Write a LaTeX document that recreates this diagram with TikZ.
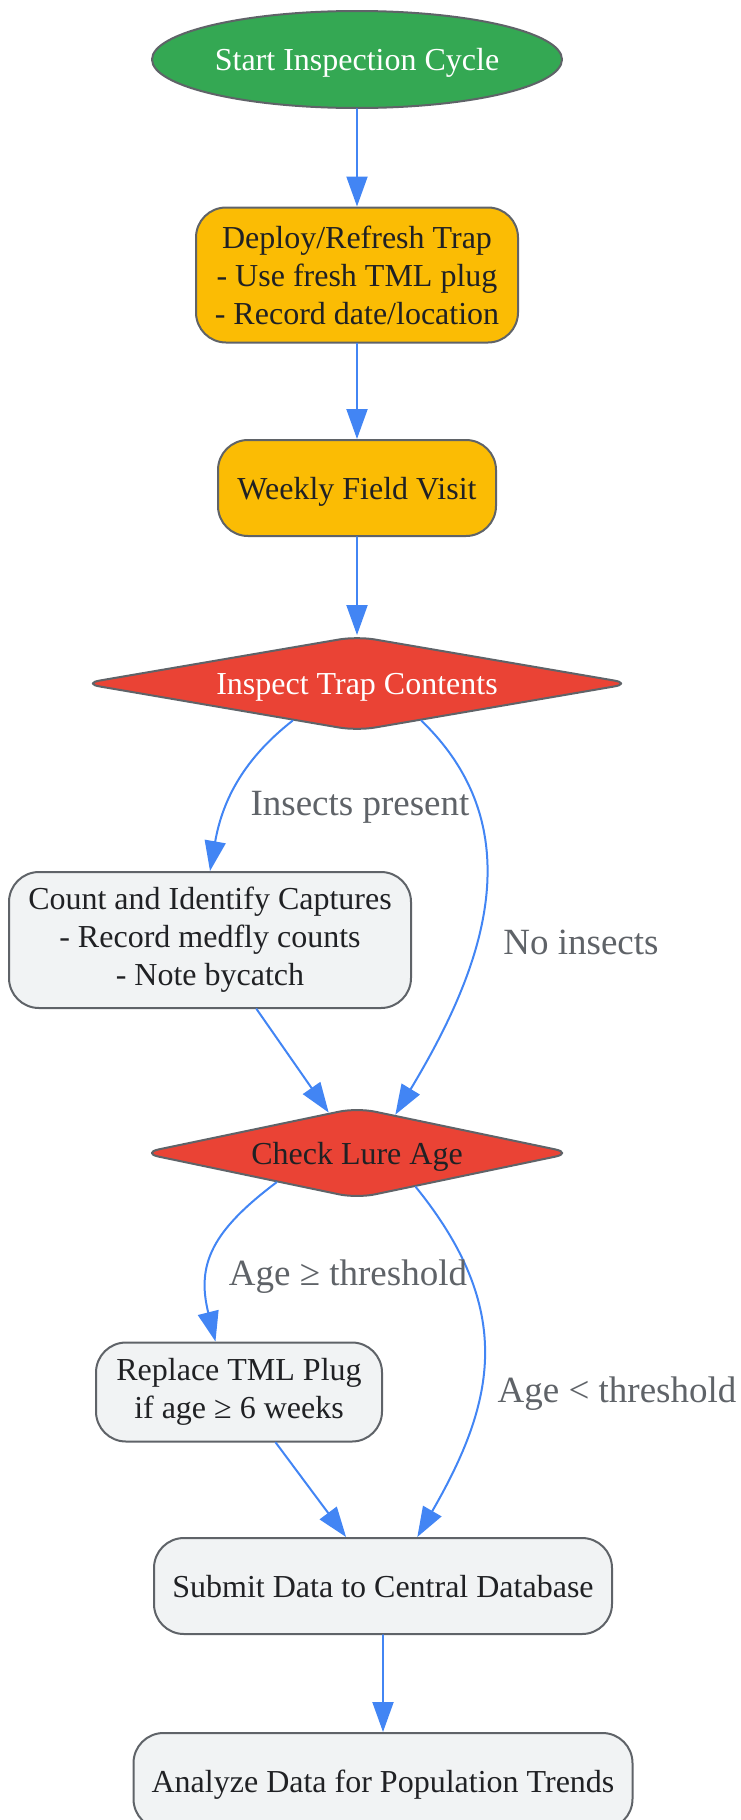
\documentclass[tikz,border=0pt]{standalone}
\usepackage{fontspec}
\setmainfont{Liberation Serif}
\usetikzlibrary{arrows.meta,shapes.geometric}
\definecolor{startgreen}{HTML}{34A853}
\definecolor{trapyellow}{HTML}{FBBC04}
\definecolor{checkred}{HTML}{EA4335}
\definecolor{plaingray}{HTML}{F1F3F4}
\definecolor{rimgray}{HTML}{5F6368}
\definecolor{flowblue}{HTML}{4285F4}
\definecolor{inktext}{HTML}{202124}

\begin{document}
\begin{tikzpicture}[line cap=round,line join=round,>={Triangle[length=30pt,width=21pt]},x=1pt,y=1pt,
  stepbox/.style={draw=rimgray,line width=2pt,rounded corners=30pt,align=center,inner sep=0pt,
    text=inktext,font=\fontsize{32pt}{38pt}\selectfont},
  decision/.style={diamond,draw=rimgray,line width=2pt,rounded corners=18pt,fill=checkred,
    inner sep=0pt,text depth=0pt,font=\fontsize{32pt}{38pt}\selectfont},
  flow/.style={->,draw=flowblue,line width=2pt},
  lbl/.style={text=rimgray,font=\fontsize{37pt}{44pt}\selectfont}]
\useasboundingbox (0,0) rectangle (741,-1820);

\node[ellipse,draw=rimgray,line width=2pt,fill=startgreen,text=white,inner sep=0pt,text depth=0pt,
  minimum width=410pt,minimum height=97pt,font=\fontsize{32pt}{38pt}\selectfont]
  (start) at (357,-59.5) {Start Inspection Cycle};

\node[stepbox,fill=trapyellow,minimum width=322pt,minimum height=135pt] (deploy) at (357,-275)
  {Deploy/Refresh Trap\\- Use fresh TML plug\\- Record date/location};
\node[stepbox,fill=trapyellow,text depth=0pt,minimum width=278pt,minimum height=96pt] (visit) at (357,-488)
  {Weekly Field Visit};

\node[decision,text=white,aspect=5.8,minimum width=550pt,minimum height=95pt] (inspect) at (357,-683.5)
  {Inspect Trap Contents};

\node[stepbox,fill=plaingray,minimum width=402pt,minimum height=136pt] (count) at (210,-940)
  {Count and Identify Captures\\- Record medfly counts\\- Note bycatch};

\node[decision,text=inktext,aspect=4.74,minimum width=432pt,minimum height=91pt] (check) at (357,-1153)
  {Check Lure Age};

\node[stepbox,fill=plaingray,minimum width=286pt,minimum height=99pt] (replace) at (239,-1392)
  {Replace TML Plug\\if age ≥ 6 weeks};
\node[stepbox,fill=plaingray,text depth=0pt,minimum width=458pt,minimum height=96pt] (submit) at (383,-1586)
  {Submit Data to Central Database};
\node[stepbox,fill=plaingray,text depth=0pt,minimum width=499pt,minimum height=96pt] (analyze) at (383,-1781)
  {Analyze Data for Population Trends};

% arrows
\draw[flow] (start.south) -- (deploy.north);
\draw[flow] (deploy.south) -- (visit.north);
\draw[flow] (visit.south) -- (inspect.north);
\draw[flow] (inspect.210) to[out=218,in=80] (count.north);
\draw[flow] (inspect.330) to[out=-44,in=59,looseness=1.05] (check.45);
\draw[flow] (count.-56.5) -- (check.125);
\draw[flow] (check.200) to[out=217,in=104,looseness=1.2] (replace.115);
\draw[flow] (check.330) to[out=-51,in=60,looseness=1.15] (submit.55.5);
\draw[flow] (replace.-54.7) -- (submit.127.6);
\draw[flow] (submit.south) -- (analyze.north);

\node[lbl] (present) at (360,-807) {Insects present};
\node[lbl] (none) at (581,-942) {No insects};
\node[lbl] (old) at (348,-1277) {Age ≥ threshold};
\node[lbl] (fresh) at (617,-1394) {Age < threshold};
\end{tikzpicture}
\end{document}
